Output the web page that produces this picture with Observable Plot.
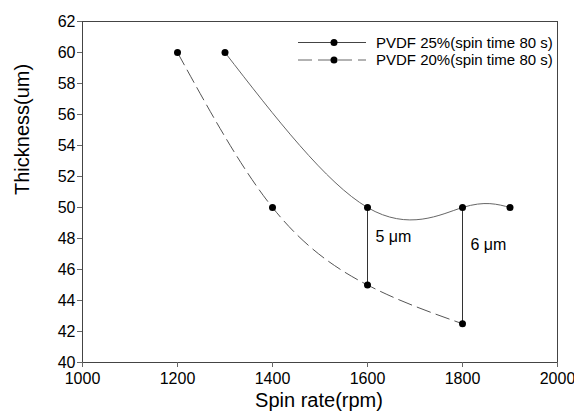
<!DOCTYPE html>
<html>
<head>
<meta charset="utf-8">
<script src="https://cdn.jsdelivr.net/npm/d3@7"></script>
<script src="https://cdn.jsdelivr.net/npm/@observablehq/plot@0.6"></script>
<style>
  html, body { margin: 0; padding: 0; background: #fff; }
  #wrap { position: relative; width: 574px; height: 417px; font-family: "Liberation Sans", Arial, sans-serif; }
  #legend { position: absolute; left: 0; top: 0; }
</style>
</head>
<body>
<div id="wrap"></div>
<script>
// Data
const rpm25 = [1300, 1600, 1800, 1900];
const thick25 = [60, 50, 50, 50];
const rpm20 = [1200, 1400, 1600, 1800];
const thick20 = [60, 50, 45, 42.5];
const seriesNames = ["PVDF 25%(spin time 80 s)", "PVDF 20%(spin time 80 s)"];
const diffRpm = [1600, 1800];
const diffTop = [50, 50];
const diffBottom = [45, 42.5];
const diffLabels = ["5 \u03bcm", "6 \u03bcm"];
const diffLabelY = [48.1, 47.6];
const xTicks = [1000, 1200, 1400, 1600, 1800, 2000];
const yTicks = [40, 42, 44, 46, 48, 50, 52, 54, 56, 58, 60, 62];

const s25 = rpm25.map((x, i) => ({x, y: thick25[i]}));
const s20 = rpm20.map((x, i) => ({x, y: thick20[i]}));
const diffs = diffRpm.map((x, i) => ({x, y1: diffBottom[i], y2: diffTop[i], label: diffLabels[i], ly: diffLabelY[i]}));

const chart = Plot.plot({
  width: 574,
  height: 417,
  marginLeft: 82,
  marginRight: 17,
  marginTop: 21,
  marginBottom: 55,
  style: {fontFamily: "Liberation Sans, Arial, sans-serif", fontSize: "16px", background: "white", color: "#000"},
  x: {domain: [1000, 2000], ticks: xTicks, tickFormat: d => String(d)},
  y: {domain: [40, 62], ticks: yTicks, tickFormat: d => String(d)},
  marks: [
    Plot.frame({stroke: "#444", strokeWidth: 1, strokeOpacity: 1}),
    Plot.axisX({ticks: xTicks, tickFormat: d => String(d), tickSize: 5, tickPadding: 5, fontSize: 16, stroke: "#666", label: null}),
    Plot.axisY({ticks: yTicks, tickFormat: d => String(d), tickSize: 5, tickPadding: 2, fontSize: 16, stroke: "#666", label: null}),
    Plot.line(s25, {x: "x", y: "y", curve: "natural", stroke: "#666", strokeWidth: 1}),
    Plot.line(s20, {x: "x", y: "y", curve: "natural", stroke: "#555", strokeWidth: 1, strokeDasharray: "14,6"}),
    Plot.ruleX(diffs, {x: "x", y1: "y1", y2: "y2", stroke: "#333", strokeWidth: 1}),
    Plot.dot(s25, {x: "x", y: "y", r: 3.5, fill: "#000", stroke: "none"}),
    Plot.dot(s20, {x: "x", y: "y", r: 3.5, fill: "#000", stroke: "none"}),
    Plot.text(diffs, {x: "x", y: "ly", text: "label", textAnchor: "start", dx: 8, fontSize: 16, fill: "#000"}),
    Plot.text(["Spin rate(rpm)"], {frameAnchor: "bottom", dy: 44, dx: -1, fontSize: 20, fill: "#000"}),
    Plot.text(["Thickness(um)"], {frameAnchor: "left", dx: -60, dy: 3, rotate: -90, fontSize: 20, fill: "#000"})
  ]
});
document.getElementById("wrap").appendChild(chart);

// Legend
const leg = d3.select("#wrap").append("svg").attr("id", "legend").attr("width", 574).attr("height", 80);
const rows = [
  {y: 42.5, dash: null, stroke: "#444"},
  {y: 60, dash: "14,6", stroke: "#666"}
];
rows.forEach((r, i) => {
  const g = leg.append("g");
  g.append("line").attr("x1", 298).attr("x2", 366).attr("y1", r.y).attr("y2", r.y)
    .attr("stroke", r.stroke).attr("stroke-width", 1).attr("stroke-dasharray", r.dash);
  g.append("circle").attr("cx", 334).attr("cy", r.y).attr("r", 3.5).attr("fill", "#000");
  g.append("text").attr("x", 376).attr("y", r.y).attr("dy", "0.35em")
    .attr("font-family", "Liberation Sans, Arial, sans-serif").attr("font-size", 15).attr("fill", "#000")
    .text(seriesNames[i]);
});
</script>
</body>
</html>
